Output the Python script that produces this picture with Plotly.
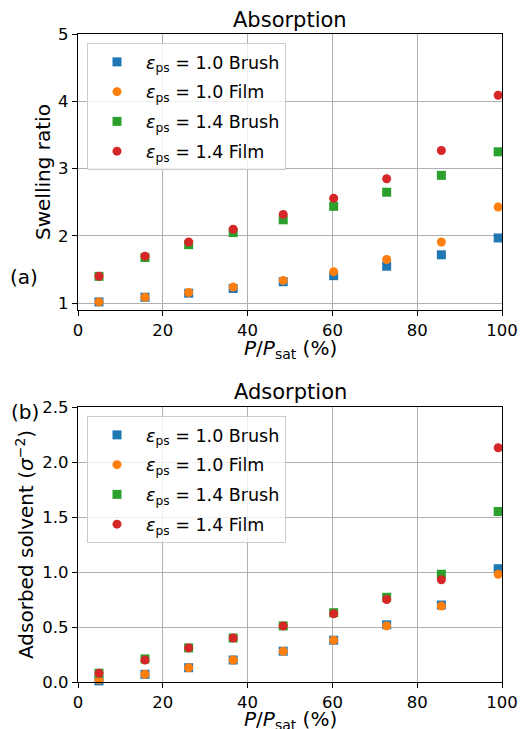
import plotly.graph_objects as go

x = [4.95, 15.8, 26.1, 36.6, 48.4, 60.3, 72.8, 85.7, 99.1]

swell_brush_10 = [1.02, 1.09, 1.15, 1.22, 1.32, 1.41, 1.55, 1.72, 1.97]
swell_film_10 = [1.02, 1.09, 1.16, 1.24, 1.34, 1.47, 1.65, 1.91, 2.43]
swell_brush_14 = [1.40, 1.68, 1.87, 2.05, 2.24, 2.44, 2.65, 2.90, 3.25]
swell_film_14 = [1.40, 1.70, 1.91, 2.10, 2.32, 2.56, 2.85, 3.27, 4.09]

ads_brush_10 = [0.01, 0.07, 0.13, 0.20, 0.28, 0.38, 0.52, 0.70, 1.03]
ads_film_10 = [0.02, 0.07, 0.13, 0.20, 0.28, 0.38, 0.51, 0.69, 0.98]
ads_brush_14 = [0.08, 0.21, 0.31, 0.40, 0.51, 0.63, 0.77, 0.98, 1.55]
ads_film_14 = [0.08, 0.20, 0.31, 0.40, 0.51, 0.62, 0.75, 0.93, 2.13]

labels = ["<i>ε</i><sub>ps</sub> = 1.0 Brush", "<i>ε</i><sub>ps</sub> = 1.0 Film",
          "<i>ε</i><sub>ps</sub> = 1.4 Brush", "<i>ε</i><sub>ps</sub> = 1.4 Film"]
colors = ["#1f77b4", "#ff7f0e", "#2ca02c", "#d62728"]
symbols = ["square", "circle", "square", "circle"]

FONT = "DejaVu Sans"
fig = go.Figure()

top = [swell_brush_10, swell_film_10, swell_brush_14, swell_film_14]
bot = [ads_brush_10, ads_film_10, ads_brush_14, ads_film_14]
for i in range(4):
    fig.add_trace(go.Scatter(x=x, y=top[i], mode="markers", name=labels[i],
                             marker=dict(color=colors[i], symbol=symbols[i], size=9),
                             xaxis="x", yaxis="y", legend="legend", legendgroup=f"a{i}",
                             cliponaxis=False))
for i in range(4):
    fig.add_trace(go.Scatter(x=x, y=bot[i], mode="markers", name=labels[i],
                             marker=dict(color=colors[i], symbol=symbols[i], size=9),
                             xaxis="x2", yaxis="y2", legend="legend2", legendgroup=f"b{i}",
                             cliponaxis=False))

xd = [78/522, 502/522]
yd1 = [1-310/729, 1-34/729]
yd2 = [1-682/729, 1-407/729]

ax_common = dict(showline=True, mirror=True, linecolor="black", linewidth=1.2,
                 ticks="outside", ticklen=5, tickcolor="black", automargin=False,
                 showgrid=True, gridcolor="#b0b0b0", gridwidth=1, zeroline=False,
                 tickfont=dict(family=FONT, size=16.5, color="black"))

legend_common = dict(font=dict(family=FONT, size=17.5, color="black"),
                     bgcolor="rgba(255,255,255,0.8)", bordercolor="#cccccc", borderwidth=1,
                     xanchor="left", yanchor="top", tracegroupgap=4, itemsizing="trace",
                     itemwidth=48)

fig.update_layout(
    template="none",
    width=522, height=729,
    margin=dict(l=0, r=0, t=0, b=0, autoexpand=False),
    plot_bgcolor="white", paper_bgcolor="white",
    showlegend=True,
    xaxis=dict(domain=xd, range=[0, 100], anchor="y", dtick=20, **ax_common),
    yaxis=dict(domain=yd1, range=[0.9, 5], anchor="x", tickvals=[1, 2, 3, 4, 5], **ax_common),
    xaxis2=dict(domain=xd, range=[0, 100], anchor="y2", dtick=20, **ax_common),
    yaxis2=dict(domain=yd2, range=[0, 2.5], anchor="x2", tickvals=[0, 0.5, 1, 1.5, 2, 2.5],
                tickformat=".1f", **ax_common),
    legend=dict(x=87/522, y=1-43/729, **legend_common),
    legend2=dict(x=87/522, y=1-416/729, **legend_common),
)

def ann(text, xp, yp, size, angle=0):
    fig.add_annotation(text=text, x=xp/522, y=1-yp/729, xref="paper", yref="paper",
                       showarrow=False, textangle=angle, xanchor="center", yanchor="middle",
                       font=dict(family=FONT, size=size, color="black"))

ann("Absorption", 290, 20, 21)
ann("Adsorption", 290, 392, 21)
ann("Swelling ratio", 43, 172, 20, -90)
ann("Adsorbed solvent (<i>σ</i><sup>−2</sup>)", 25, 545, 20, -90)
ann("<i>P</i>/<i>P</i><sub>sat</sub> (%)", 290, 349, 20)
ann("<i>P</i>/<i>P</i><sub>sat</sub> (%)", 290, 720, 20)
ann("(a)", 24, 277, 20)
ann("(b)", 25, 412, 20)

fig.write_html("out.html")
